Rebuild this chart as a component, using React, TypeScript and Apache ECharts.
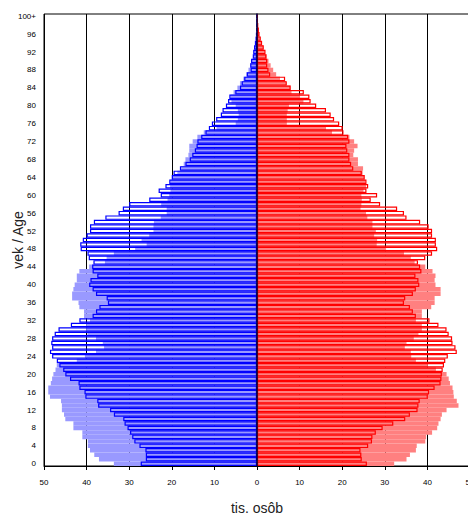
import React, { useEffect, useRef } from 'react';
import * as echarts from 'echarts';

// Age categories 0..100+
const ages: string[] = Array.from({ length: 101 }, (_, i) => (i === 100 ? '100+' : String(i)));

// Men, earlier year (filled light blue), thousands
const maleOld = [
  33.6, 37.1, 38.2, 39.2, 39.7, 39.7, 41.0, 41.0, 43.1, 43.1,
  45.0, 45.3, 45.8, 45.8, 46.0, 48.6, 49.0, 49.0, 48.4, 48.1,
  47.8, 47.3, 47.0, 42.3, 40.4, 37.8, 35.9, 36.2, 37.8, 39.8,
  40.1, 40.1, 39.2, 40.6, 40.6, 41.7, 41.9, 43.4, 43.4, 43.1,
  42.8, 42.3, 42.3, 41.7, 39.4, 35.7, 35.3, 33.6, 28.6, 25.9,
  27.1, 25.3, 24.3, 24.3, 24.2, 22.6, 21.2, 21.2, 22.5, 21.0,
  20.6, 20.3, 20.4, 20.3, 20.0, 18.7, 17.8, 17.2, 16.8, 16.1,
  15.9, 15.9, 15.1, 14.0, 12.5, 9.5, 5.0, 4.5, 4.3, 4.5,
  5.0, 6.0, 6.2, 5.5, 4.6, 4.0, 3.2, 2.5, 2.0, 1.6,
  1.2, 0.9, 0.7, 0.5, 0.35, 0.25, 0.15, 0.1, 0.07, 0.05,
  0.05,
];

// Men, later year (blue outline)
const maleNew = [
  27.3, 26.1, 26.1, 26.2, 27.6, 28.8, 29.3, 29.8, 30.4, 31.1,
  31.4, 33.6, 34.5, 37.3, 37.5, 40.3, 40.5, 41.7, 41.9, 43.9,
  45.0, 45.5, 46.4, 47.0, 48.1, 48.6, 48.1, 48.3, 48.1, 47.5,
  46.6, 43.7, 41.7, 38.6, 37.8, 37.0, 35.0, 35.3, 37.8, 38.6,
  39.4, 39.1, 37.5, 38.6, 38.7, 38.4, 39.5, 39.8, 41.4, 41.5,
  40.9, 40.0, 39.2, 39.2, 38.3, 35.6, 32.5, 31.5, 30.0, 25.3,
  22.6, 23.1, 21.5, 20.6, 20.0, 19.6, 18.1, 16.8, 15.8, 15.2,
  14.6, 14.2, 14.0, 13.1, 12.1, 11.3, 10.6, 9.6, 8.5, 8.1,
  7.3, 6.8, 6.5, 5.1, 4.0, 3.6, 3.0, 2.4, 1.5, 1.6,
  1.4, 1.0, 0.9, 0.7, 0.5, 0.35, 0.25, 0.15, 0.1, 0.08,
  0.1,
];

// Women, earlier year (filled light red)
const femaleOld = [
  32.2, 35.1, 35.9, 37.3, 37.5, 39.5, 39.7, 41.1, 42.3, 42.6,
  43.1, 43.4, 44.5, 47.3, 46.9, 46.2, 46.1, 45.9, 45.3, 45.0,
  44.5, 42.0, 40.1, 37.3, 36.2, 36.1, 34.7, 35.1, 36.8, 37.9,
  38.7, 38.7, 37.3, 38.7, 38.7, 40.9, 41.7, 41.7, 43.1, 43.1,
  41.9, 41.7, 41.9, 41.2, 39.5, 37.0, 36.1, 34.5, 30.3, 28.1,
  28.2, 27.5, 27.9, 27.1, 27.1, 25.9, 25.6, 24.3, 24.5, 24.6,
  24.5, 25.0, 25.6, 25.4, 25.1, 24.8, 24.9, 23.7, 23.7, 22.6,
  22.8, 23.6, 22.8, 21.7, 17.6, 16.2, 7.0, 7.0, 7.0, 7.2,
  7.5, 10.9, 10.1, 8.1, 7.9, 6.8, 5.4, 4.5, 3.8, 3.2,
  2.7, 2.3, 1.8, 1.4, 1.0, 0.7, 0.5, 0.35, 0.25, 0.15,
  0.15,
];

// Women, later year (red outline)
const femaleNew = [
  25.8, 24.6, 24.5, 24.3, 26.1, 27.0, 27.1, 27.9, 29.5, 32.0,
  34.8, 35.9, 37.7, 37.9, 38.2, 40.1, 40.4, 41.7, 43.1, 43.3,
  43.4, 43.6, 43.9, 44.2, 44.8, 46.9, 46.6, 45.9, 45.8, 45.0,
  44.5, 42.6, 40.5, 37.3, 36.6, 35.9, 34.5, 34.8, 36.6, 37.3,
  38.1, 37.9, 37.2, 38.6, 38.3, 37.8, 39.5, 41.1, 42.3, 42.0,
  42.0, 41.1, 41.1, 40.3, 38.3, 35.1, 34.5, 32.9, 28.9, 26.7,
  28.2, 25.7, 26.1, 25.7, 25.3, 24.6, 22.6, 22.1, 21.7, 21.7,
  21.2, 21.0, 21.7, 21.4, 20.3, 20.1, 19.3, 18.1, 17.3, 16.2,
  13.9, 12.6, 12.3, 11.0, 7.9, 7.0, 6.6, 3.1, 2.7, 2.4,
  2.4, 2.2, 2.0, 1.6, 1.2, 0.9, 0.6, 0.45, 0.3, 0.2,
  0.2,
];

const xAxisTitle = 'tis. osôb';
const yAxisTitle = 'vek / Age';

export default function App() {
  const ref = useRef<HTMLDivElement>(null);

  useEffect(() => {
    document.body.style.overflow = 'hidden';
    const chart = echarts.init(ref.current as HTMLDivElement, null, { renderer: 'svg' });
    const font = '"Liberation Sans", Arial, sans-serif';
    chart.setOption({
      animation: false,
      backgroundColor: '#fff',
      textStyle: { fontFamily: font },
      grid: {
        left: 44,
        top: 14,
        right: 10,
        bottom: 50,
        show: true,
        borderColor: '#000',
        borderWidth: 1,
        backgroundColor: 'transparent',
      },
      xAxis: {
        type: 'value',
        min: -50,
        max: 50,
        interval: 10,
        axisLine: { show: true, onZero: false, lineStyle: { color: '#000', width: 1 } },
        axisTick: { show: true, length: 4, lineStyle: { color: '#000' } },
        axisLabel: {
          formatter: (v: number) => String(Math.abs(v)),
          fontSize: 8,
          color: '#000',
          margin: 12,
          fontFamily: font,
        },
        splitLine: { show: true, lineStyle: { color: '#000', width: 1 } },
      },
      yAxis: {
        type: 'category',
        data: ages,
        z: 10,
        axisLine: { show: true, onZero: true, lineStyle: { color: '#000033', width: 1.5 } },
        axisTick: { show: false },
        axisLabel: {
          interval: 3,
          fontSize: 8,
          color: '#000',
          backgroundColor: '#fff',
          padding: [0, 1, 0, 1],
          margin: 7,
          fontFamily: font,
        },
        splitLine: { show: false },
      },
      series: [
        {
          type: 'bar',
          data: maleOld.map((v) => -v),
          barGap: '-100%',
          barCategoryGap: '0%',
          itemStyle: { color: '#9999ff' },
          z: 2,
        },
        {
          type: 'bar',
          data: femaleOld,
          barGap: '-100%',
          barCategoryGap: '0%',
          itemStyle: { color: '#ff8080' },
          z: 2,
        },
        {
          type: 'bar',
          data: maleNew.map((v) => -v),
          barGap: '-100%',
          barCategoryGap: '0%',
          itemStyle: { color: 'rgba(0,0,0,0)', borderColor: '#0000ff', borderWidth: 1.2 },
          z: 3,
        },
        {
          type: 'bar',
          data: femaleNew,
          barGap: '-100%',
          barCategoryGap: '0%',
          itemStyle: { color: 'rgba(0,0,0,0)', borderColor: '#ff0000', borderWidth: 1.2 },
          z: 3,
        },
      ],
      graphic: [
        {
          type: 'text',
          x: 257,
          y: 508,
          style: {
            text: xAxisTitle,
            fontSize: 14,
            fill: '#222',
            fontFamily: font,
            textAlign: 'center',
            textVerticalAlign: 'middle',
          },
        },
        {
          type: 'text',
          x: 18,
          y: 240,
          rotation: Math.PI / 2,
          style: {
            text: yAxisTitle,
            fontSize: 14,
            fill: '#222',
            fontFamily: font,
            textAlign: 'center',
            textVerticalAlign: 'middle',
          },
        },
      ],
    });
    return () => chart.dispose();
  }, []);

  return (
    <div
      ref={ref}
      style={{ position: 'fixed', left: 0, top: 0, width: 480, height: 516, background: '#fff' }}
    />
  );
}
